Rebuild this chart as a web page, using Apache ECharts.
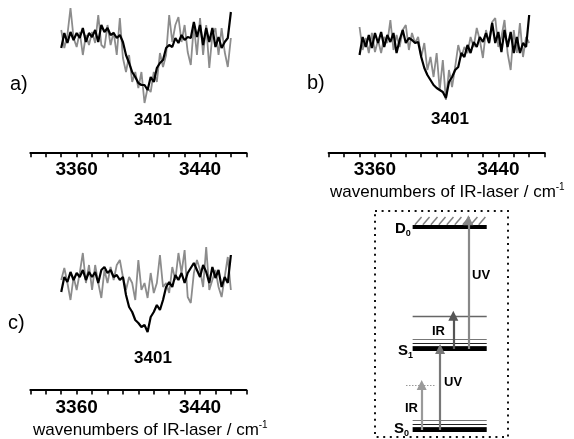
<!DOCTYPE html>
<html>
<head>
<meta charset="utf-8">
<script src="https://cdn.jsdelivr.net/npm/echarts@6/dist/echarts.min.js"></script>
<style>html,body{margin:0;padding:0;background:#fff}#c{width:574px;height:439px}</style>
</head>
<body>
<div id="c"></div>
<script>
// ---- data ----
const wavenumbers = [3350,3352,3354,3356,3358,3360,3362,3364,3366,3368,3370,3372,3374,3376,3378,3380,3382,3384,3386,3388,3390,3392,3394,3396,3398,3400,3402,3404,3406,3408,3410,3412,3414,3416,3418,3420,3422,3424,3426,3428,3430,3432,3434,3436,3438,3440,3442,3444,3446,3448,3450,3452,3454,3456,3458,3460];
const blackA = [57,72,62,73,65,72,67,77,63,72,68,75,63,80,73,77,70,72,67,70,63,50,42,33,28,22,20,20,15,28,23,37,42,45,57,60,58,67,62,70,65,68,67,83,68,80,60,77,63,77,58,68,57,63,67,93];
const grayA  = [75,57,70,97,67,58,73,50,70,60,73,62,90,60,57,80,60,73,50,87,47,33,50,23,33,17,33,2,17,13,33,23,52,38,50,90,63,80,88,63,80,53,40,80,50,87,50,80,37,70,77,50,77,53,38,67];
const blackB = [50,68,58,70,57,72,62,73,58,70,63,72,52,65,75,62,67,65,62,63,48,37,30,25,20,17,15,13,7,23,28,35,38,52,48,60,52,63,58,68,63,72,62,82,62,73,53,75,58,73,52,68,52,62,58,90];
const grayB  = [78,55,67,52,72,53,65,52,68,62,85,55,70,58,75,80,55,72,62,68,48,62,35,48,28,52,15,45,5,35,18,38,60,48,58,52,68,58,77,65,47,75,62,83,87,58,68,85,52,35,75,52,82,48,68,62];
const blackC = [48,63,58,68,60,67,63,70,60,68,63,68,57,70,73,67,70,63,65,60,63,45,33,28,20,17,13,15,8,23,28,35,30,40,53,58,53,65,60,67,57,67,72,77,70,63,75,68,57,73,62,70,53,63,57,85];
const grayC  = [60,72,57,40,63,50,67,87,57,75,50,75,57,42,70,57,73,60,75,80,63,50,63,57,40,80,50,57,42,67,47,57,85,53,57,47,73,60,87,67,90,43,37,67,80,70,53,93,50,60,70,53,43,63,83,50];
const tickLabels = [3360, 3440];
const peakLabel = '3401';
const panelLabels = ['a)', 'b)', 'c)'];
const axisTitle = 'wavenumbers of IR-laser / cm';

// energy level diagram (energy units, S0 = 0, S1 = 1)
const levelNames = ['S0', 'S1', 'D0'];
const levelEnergy = [0, 1, 2.51];
const s0Vib = [0.04, 0.074, 0.115];
const s1Vib = [1.037, 1.07, 1.12];
const s1VibIR = 1.41;
const virtualLevel = 0.555;
const levelXRange = [2.83, 8.4];
const virtualXRange = [2.33, 4.59];
const arrowNames = ['IR', 'UV', 'IR', 'UV'];
const arrowX = [3.51, 4.89, 5.89, 7.02];
const arrowFrom = [0, 0, 1, 1];
const arrowTo = [0.555, 1.0, 1.41, 2.59];
const arrowColors = ['#9a9a9a', '#777777', '#555555', '#888888'];

// ---- chart ----
const FONT = 'Liberation Sans, Arial, sans-serif';
const chart = echarts.init(document.getElementById('c'), null, {renderer: 'canvas'});
const pairs = ys => wavenumbers.map((x, i) => [x, ys[i]]);

const traceGrids = [
  {left: 30.4, top: 5, width: 215.9, height: 100, offset: 47.7},
  {left: 328.7, top: 5, width: 215.9, height: 100, offset: 47.7},
  {left: 30.4, top: 240, width: 215.9, height: 100, offset: 50}
];
const grids = traceGrids.map(g => ({left: g.left, top: g.top, width: g.width, height: g.height}));
grids.push({left: 375, top: 211, width: 133, height: 226, show: true, borderColor: '#111', borderWidth: 2, borderType: [2, 4.6], backgroundColor: 'transparent'});

const xAxes = traceGrids.map((g, i) => ({
  gridIndex: i, type: 'value', min: 3330, max: 3470, interval: 10, position: 'bottom', offset: g.offset,
  axisLine: {show: true, onZero: false, lineStyle: {color: '#000', width: 2.2}},
  axisTick: {show: true, length: 4.5, lineStyle: {color: '#000', width: 1.6}},
  axisLabel: {show: true, margin: 8, fontSize: 19, fontWeight: 'bold', color: '#000', fontFamily: FONT,
    showMinLabel: true, showMaxLabel: true,
    formatter: v => tickLabels.indexOf(v) >= 0 ? String(v) : ''},
  splitLine: {show: false}
}));
xAxes.push({gridIndex: 3, type: 'value', min: 0, max: 10, show: false});
const yAxes = traceGrids.map((g, i) => ({gridIndex: i, type: 'value', min: 0, max: 100, show: false}));
yAxes.push({gridIndex: 3, type: 'value', min: -0.0864, max: 2.7037, show: false});

const traceSeries = [];
[[grayA, blackA], [grayB, blackB], [grayC, blackC]].forEach((pair, i) => {
  traceSeries.push({type: 'line', xAxisIndex: i, yAxisIndex: i, data: pairs(pair[0]), showSymbol: false, symbol: 'none',
    lineStyle: {color: '#8c8c8c', width: 1.8}, z: 2});
  traceSeries.push({type: 'line', xAxisIndex: i, yAxisIndex: i, data: pairs(pair[1]), showSymbol: false, symbol: 'none',
    lineStyle: {color: '#000', width: 2.2}, z: 3});
});

// level lines
const levelLines = [];
levelEnergy.forEach(e => levelLines.push({coords: [[levelXRange[0], e], [levelXRange[1], e]], lineStyle: {width: 4, color: '#000', opacity: 1}}));
s0Vib.concat(s1Vib).forEach((e, i) => levelLines.push({coords: [[levelXRange[0], e], [levelXRange[1], e]],
  lineStyle: {width: 1.2, color: (i % 3 === 2) ? '#777' : '#222', opacity: 1}}));
levelLines.push({coords: [[levelXRange[0], s1VibIR], [levelXRange[1], s1VibIR]], lineStyle: {width: 1.3, color: '#666', opacity: 1}});
levelLines.push({coords: [[virtualXRange[0], virtualLevel], [virtualXRange[1], virtualLevel]], lineStyle: {width: 1.2, color: '#999', type: [1.5, 1.5], opacity: 1}});
// hatching above the ionisation limit
const hatch = [];
for (let i = 0; i < 9; i++) {
  const x0 = 3.0 + i * 0.6;
  hatch.push({coords: [[x0, levelEnergy[2] + 0.025], [x0 + 0.5, levelEnergy[2] + 0.12]]});
}
const arrows = arrowX.map((x, i) => ({coords: [[x, arrowFrom[i]], [x, arrowTo[i]]], lineStyle: {color: arrowColors[i], width: 2.2, opacity: 1}}));

const diagramSeries = [
  {type: 'lines', coordinateSystem: 'cartesian2d', xAxisIndex: 3, yAxisIndex: 3, symbol: 'none', data: levelLines,
    lineStyle: {opacity: 1}, z: 3},
  {type: 'lines', coordinateSystem: 'cartesian2d', xAxisIndex: 3, yAxisIndex: 3, symbol: 'none', data: hatch,
    lineStyle: {color: '#808080', width: 1.5, opacity: 1}, z: 2},
  {type: 'lines', coordinateSystem: 'cartesian2d', xAxisIndex: 3, yAxisIndex: 3, symbol: ['none', 'triangle'], symbolSize: [0, 10],
    lineStyle: {opacity: 1}, data: arrows, z: 4}
];

const txt = (text, x, y, size, weight, align) => ({type: 'text', x: x, y: y, silent: true,
  style: {text: text, fontSize: size, fontWeight: weight || 'normal', fontFamily: FONT, fill: '#000',
    align: align || 'left', verticalAlign: 'middle'}});
const rich = (text, x, y, richStyle) => ({type: 'text', x: x, y: y, silent: true,
  style: {text: text, fontFamily: FONT, fill: '#000', align: 'left', verticalAlign: 'middle', rich: richStyle}});
const subRich = {b: {fontSize: 15, fontWeight: 'bold', fontFamily: FONT, fill: '#000', lineHeight: 18},
  s: {fontSize: 9, fontWeight: 'bold', fontFamily: FONT, fill: '#000', verticalAlign: 'bottom', lineHeight: 9}};
const supRich = {a: {fontSize: 17, fontFamily: FONT, fill: '#000', lineHeight: 20},
  s: {fontSize: 10, fontFamily: FONT, fill: '#000', verticalAlign: 'top', lineHeight: 10}};

const graphics = [
  txt(panelLabels[0], 10, 84, 20), txt(panelLabels[1], 307, 83, 20), txt(panelLabels[2], 8, 323, 20),
  txt(peakLabel, 153, 120, 17, 'bold', 'center'), txt(peakLabel, 450, 119, 17, 'bold', 'center'), txt(peakLabel, 153, 358, 17, 'bold', 'center'),
  rich('{a|' + axisTitle + '}{s|-1}', 330, 192, supRich),
  rich('{a|' + axisTitle + '}{s|-1}', 33, 430, supRich),
  rich('{b|D}{s|0}', 395, 229, subRich),
  rich('{b|S}{s|1}', 398, 351, subRich),
  rich('{b|S}{s|0}', 394, 429, subRich),
  txt(arrowNames[3], 472, 275, 13, 'bold'),
  txt(arrowNames[2], 432, 331, 13, 'bold'),
  txt(arrowNames[1], 444, 382, 13, 'bold'),
  txt(arrowNames[0], 405, 408, 13, 'bold')
];

chart.setOption({
  animation: false,
  backgroundColor: '#fff',
  grid: grids,
  xAxis: xAxes,
  yAxis: yAxes,
  series: traceSeries.concat(diagramSeries),
  graphic: graphics
});
</script>
</body>
</html>
